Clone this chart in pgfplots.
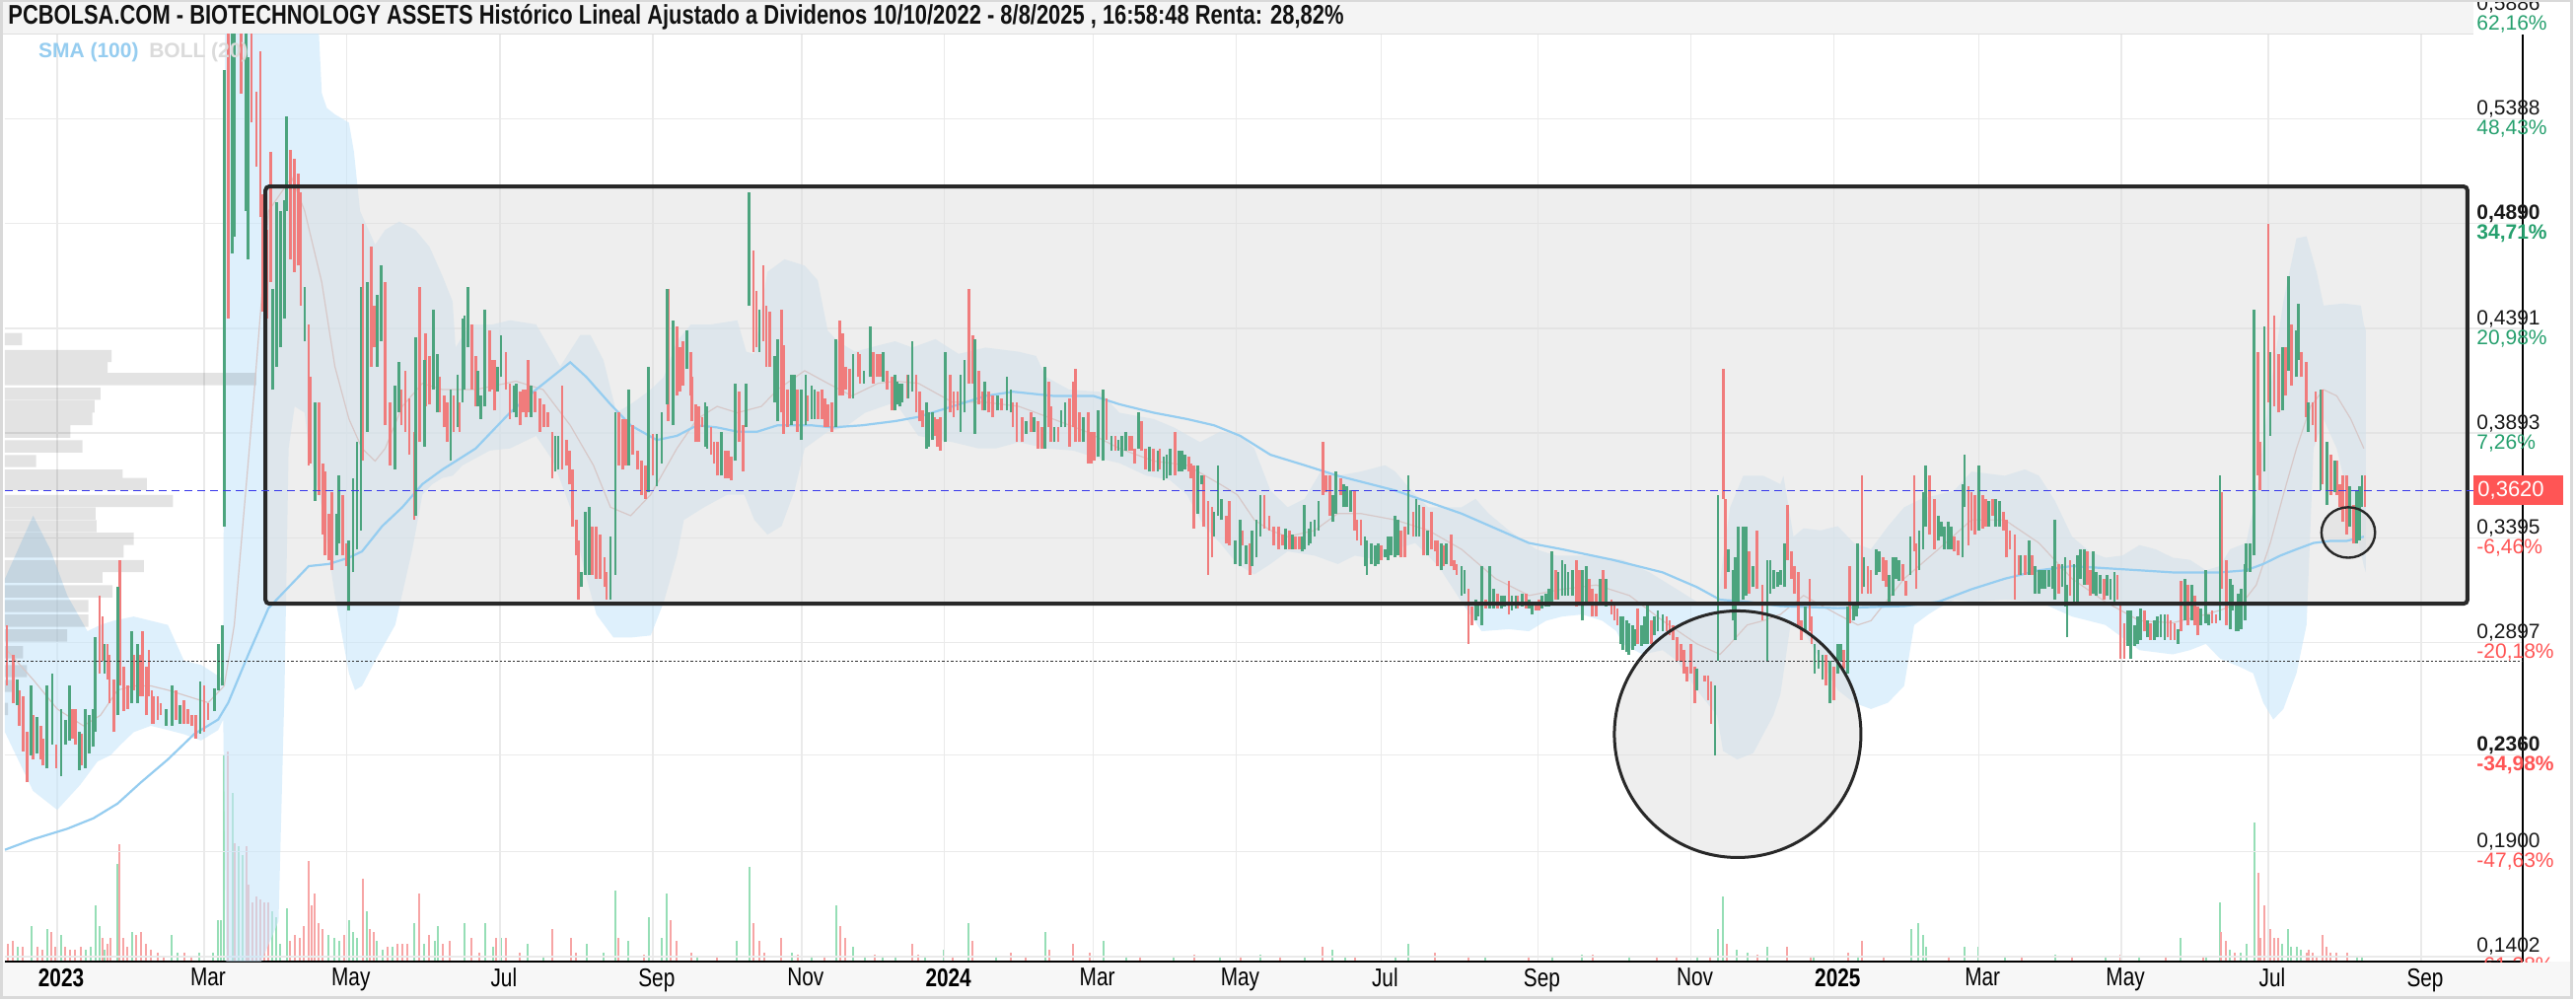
\documentclass[border=0pt]{standalone}
\usepackage{pgfplots}
\pgfplotsset{compat=1.18}
\usepackage{pgfplotstable}
\usepackage{fontspec}
\setmainfont{Liberation Sans}
\newfontfamily\condfont[FakeStretch=0.8]{Liberation Sans}

\definecolor{cR}{RGB}{240,124,124}
\definecolor{cG}{RGB}{76,164,126}
\definecolor{vR}{RGB}{247,165,165}
\definecolor{vG}{RGB}{150,222,182}
\definecolor{bandC}{RGB}{200,230,250}
\definecolor{smaC}{RGB}{150,205,240}
\definecolor{midC}{RGB}{215,200,200}
\definecolor{pctG}{RGB}{38,160,110}
\definecolor{pctR}{RGB}{255,85,85}
\definecolor{dashB}{RGB}{55,55,235}
\definecolor{gridC}{RGB}{234,234,234}
\definecolor{barBG}{RGB}{244,244,244}
\definecolor{stripC}{RGB}{247,247,247}
\definecolor{shapeC}{RGB}{40,40,40}
\definecolor{shapeF}{RGB}{222,222,222}

\newcommand{\yl}[3]{#1\\\textcolor{#3}{#2}}
\newcommand{\ylb}[3]{\textbf{#1}\\\textcolor{#3}{\textbf{#2}}}
\newcommand{\ylab}[2]{\node[anchor=west, align=left, inner xsep=1.5pt, inner ysep=0pt,
  font=\fontsize{10.5}{10}\selectfont, text={rgb,255:red,25;green,25;blue,25}] at (1251.5pt,#1) {#2};}

% candles: x = bar position on the time axis, lo = low, hi = high
\pgfplotstableread{
x lo hi
17 .260 .272
31 .236 .269
37 .237 .254
47 .230 .269
52 .241 .275
61 .226 .258
65 .241 .253
69 .243 .269
79 .229 .247
85 .230 .258
89 .237 .255
93 .240 .258
95 .247 .292
104 .275 .289
117 .255 .316
131 .261 .295
137 .261 .289
165 .250 .258
171 .250 .269
179 .251 .260
199 .246 .271
213 .257 .268
217 .267 .289
221 .269 .298
223 .345 .562
231 .475 .600
233 .483 .600
245 .495 .600
247 .472 .568
271 .410 .458
275 .421 .499
279 .430 .495
283 .444 .500
285 .495 .540
303 .433 .459
313 .357 .404
335 .331 .351
337 .337 .369
347 .305 .338
351 .323 .368
355 .334 .385
359 .343 .459
365 .390 .461
375 .421 .455
379 .433 .469
393 .372 .412
397 .399 .423
413 .350 .435
422 .383 .424
431 .410 .448
435 .399 .427
448 .376 .410
455 .392 .417
460 .404 .444
462 .410 .445
465 .430 .459
475 .402 .419
478 .396 .407
482 .402 .448
495 .409 .421
498 .416 .436
511 .399 .412
513 .397 .413
528 .397 .412
552 .371 .388
555 .372 .388
578 .316 .323
582 .322 .352
586 .322 .354
607 .310 .340
612 .322 .399
625 .374 .410
645 .361 .421
653 .364 .389
658 .375 .399
663 .403 .458
669 .393 .443
683 .420 .438
701 .383 .404
703 .382 .402
717 .369 .390
731 .376 .413
742 .392 .413
745 .450 .504
755 .428 .448
770 .404 .426
773 .395 .434
787 .393 .417
790 .395 .417
797 .386 .410
801 .393 .417
807 .396 .412
810 .396 .410
831 .392 .434
848 .406 .427
859 .413 .419
865 .416 .440
878 .414 .428
890 .400 .417
892 .403 .414
895 .402 .413
897 .404 .413
903 .406 .417
907 .409 .433
921 .382 .404
923 .383 .399
927 .386 .399
940 .385 .428
955 .390 .417
959 .399 .424
969 .389 .434
979 .400 .414
992 .400 .407
1001 .400 .416
1005 .399 .410
1020 .389 .395
1028 .390 .397
1039 .382 .421
1048 .385 .392
1055 .392 .400
1059 .392 .404
1077 .385 .397
1092 .378 .400
1097 .376 .410
1105 .381 .388
1112 .381 .386
1115 .378 .388
1119 .381 .390
1132 .382 .399
1143 .371 .383
1151 .371 .381
1157 .367 .378
1160 .368 .379
1163 .369 .382
1172 .371 .381
1175 .371 .381
1178 .372 .379
1191 .351 .374
1195 .365 .369
1207 .340 .352
1211 .350 .374
1214 .348 .358
1228 .327 .338
1233 .326 .348
1239 .327 .336
1245 .326 .343
1249 .330 .348
1253 .340 .360
1278 .334 .344
1285 .334 .341
1295 .333 .340
1297 .334 .355
1301 .336 .344
1303 .337 .347
1307 .340 .348
1311 .343 .357
1325 .347 .360
1328 .351 .371
1336 .354 .365
1339 .354 .364
1343 .352 .362
1357 .326 .340
1359 .322 .338
1363 .327 .337
1367 .326 .336
1370 .327 .337
1377 .330 .334
1380 .329 .340
1383 .331 .340
1387 .330 .350
1390 .331 .348
1400 .341 .369
1408 .340 .358
1411 .340 .355
1419 .331 .343
1433 .324 .337
1438 .327 .337
1453 .312 .326
1456 .313 .324
1467 .300 .310
1469 .302 .309
1473 .298 .326
1481 .306 .326
1485 .306 .315
1493 .306 .312
1496 .307 .312
1503 .305 .312
1507 .306 .312
1513 .307 .313
1520 .306 .310
1523 .303 .309
1533 .306 .312
1537 .307 .313
1540 .307 .315
1543 .309 .333
1549 .310 .323
1553 .312 .329
1556 .312 .327
1559 .312 .323
1563 .312 .324
1573 .300 .324
1577 .309 .326
1591 .309 .320
1597 .307 .320
1611 .289 .302
1613 .286 .302
1617 .285 .300
1619 .284 .299
1623 .286 .298
1625 .288 .296
1632 .288 .298
1635 .289 .302
1638 .289 .309
1645 .293 .302
1648 .295 .305
1653 .295 .303
1687 .267 .277
1705 .236 .269
1708 .281 .360
1718 .323 .334
1723 .300 .324
1725 .291 .330
1728 .309 .345
1733 .310 .345
1736 .312 .345
1743 .316 .326
1757 .281 .329
1760 .313 .329
1763 .315 .324
1767 .316 .323
1770 .317 .324
1774 .316 .337
1795 .295 .307
1804 .275 .289
1808 .277 .286
1812 .272 .284
1819 .261 .281
1827 .275 .289
1830 .281 .289
1837 .275 .307
1843 .300 .309
1846 .302 .309
1847 .306 .337
1853 .316 .330
1865 .322 .334
1868 .323 .333
1878 .309 .322
1882 .312 .330
1885 .320 .330
1888 .319 .329
1899 .322 .340
1908 .324 .343
1912 .334 .361
1914 .345 .374
1927 .338 .350
1930 .340 .347
1933 .334 .345
1937 .334 .347
1940 .334 .345
1951 .330 .365
1953 .354 .379
1967 .343 .374
1977 .345 .357
1984 .345 .358
1988 .345 .357
2009 .322 .331
2017 .322 .338
2023 .313 .326
2027 .313 .324
2030 .315 .324
2033 .315 .324
2037 .316 .324
2041 .315 .326
2043 .310 .348
2050 .316 .327
2053 .307 .330
2055 .292 .317
2062 .309 .327
2065 .309 .331
2068 .320 .334
2072 .317 .334
2081 .313 .333
2084 .312 .323
2088 .313 .322
2095 .312 .322
2098 .310 .320
2102 .309 .323
2115 .288 .305
2118 .282 .305
2122 .288 .298
2125 .289 .302
2128 .291 .306
2135 .292 .300
2142 .291 .300
2145 .292 .302
2148 .292 .303
2152 .291 .303
2165 .289 .296
2172 .300 .320
2179 .300 .317
2188 .298 .306
2193 .299 .324
2196 .298 .303
2207 .300 .369
2217 .296 .320
2219 .305 .317
2223 .295 .309
2225 .295 .313
2228 .296 .315
2232 .300 .327
2233 .323 .337
2237 .323 .337
2241 .331 .448
2251 .371 .440
2257 .388 .428
2269 .400 .430
2275 .419 .464
2283 .416 .438
2285 .424 .451
2295 .390 .404
2307 .362 .410
2313 .355 .385
2321 .361 .376
2336 .345 .364
2343 .337 .362
2346 .338 .364
2348 .354 .369
}\upC

\pgfplotstableread{
x lo hi
7 .269 .298
13 .261 .284
19 .250 .267
23 .238 .264
27 .223 .247
33 .234 .255
41 .234 .250
43 .231 .244
56 .230 .241
72 .244 .258
75 .241 .258
81 .231 .246
99 .275 .312
102 .281 .302
107 .272 .289
109 .261 .284
113 .247 .272
119 .269 .329
123 .257 .278
127 .258 .269
133 .267 .284
139 .264 .284
142 .264 .295
146 .255 .278
148 .264 .286
151 .251 .267
153 .251 .264
157 .253 .264
160 .255 .261
175 .253 .267
183 .251 .262
187 .251 .258
191 .250 .255
195 .244 .255
203 .247 .269
207 .253 .261
227 .444 .600
240 .551 .600
250 .537 .600
255 .516 .552
259 .492 .571
261 .447 .503
265 .444 .486
269 .461 .523
289 .472 .524
293 .466 .520
297 .469 .513
299 .450 .504
307 .374 .441
309 .375 .416
317 .360 .404
321 .341 .375
323 .331 .371
327 .329 .351
330 .324 .361
341 .331 .360
345 .326 .337
361 .376 .489
369 .421 .478
372 .430 .450
383 .393 .461
388 .374 .404
399 .393 .410
403 .390 .419
407 .379 .406
412 .348 .390
417 .385 .459
423 .402 .437
427 .403 .426
437 .399 .416
442 .392 .407
445 .385 .404
451 .390 .407
457 .390 .404
469 .410 .441
473 .402 .426
487 .409 .438
489 .410 .424
492 .400 .424
503 .410 .428
507 .396 .413
517 .393 .409
520 .399 .410
523 .397 .410
525 .399 .424
532 .399 .409
537 .390 .406
541 .392 .403
545 .392 .399
549 .368 .390
559 .372 .412
563 .374 .386
566 .365 .381
569 .345 .372
573 .331 .348
575 .310 .338
589 .322 .345
593 .320 .345
597 .320 .341
601 .316 .330
603 .310 .323
615 .374 .399
619 .372 .396
622 .374 .396
629 .379 .393
634 .372 .381
638 .360 .376
642 .358 .374
649 .369 .389
664 .395 .458
673 .407 .440
676 .409 .430
679 .412 .433
687 .407 .428
688 .395 .416
692 .385 .403
695 .385 .402
698 .392 .397
707 .379 .392
710 .375 .385
713 .369 .385
721 .368 .381
724 .368 .381
727 .367 .378
735 .385 .409
739 .371 .393
749 .428 .476
752 .430 .457
759 .433 .469
762 .421 .450
765 .421 .447
777 .399 .448
779 .389 .431
783 .392 .410
793 .390 .410
803 .395 .407
813 .396 .409
817 .396 .410
820 .392 .406
823 .392 .403
827 .390 .404
835 .407 .443
838 .407 .437
841 .410 .421
845 .406 .420
853 .416 .428
855 .413 .427
868 .413 .428
872 .416 .427
875 .416 .427
882 .410 .419
887 .400 .416
902 .406 .417
911 .399 .417
914 .395 .409
917 .392 .400
929 .388 .397
932 .383 .396
935 .381 .397
945 .399 .417
948 .397 .409
952 .400 .409
963 .413 .458
967 .413 .436
973 .403 .419
977 .400 .409
983 .399 .409
987 .397 .407
996 .400 .406
1007 .392 .404
1011 .385 .404
1016 .385 .397
1025 .390 .399
1032 .382 .395
1036 .382 .392
1043 .392 .414
1045 .385 .402
1052 .385 .392
1063 .383 .406
1067 .392 .414
1069 .385 .420
1073 .385 .399
1082 .375 .399
1085 .375 .390
1088 .376 .390
1100 .386 .406
1109 .381 .388
1123 .381 .388
1125 .381 .388
1128 .375 .382
1135 .381 .395
1139 .372 .382
1147 .371 .382
1153 .372 .382
1168 .369 .390
1182 .371 .378
1184 .368 .375
1187 .344 .374
1197 .345 .369
1201 .322 .357
1205 .330 .354
1219 .337 .350
1222 .336 .357
1235 .336 .343
1243 .322 .337
1257 .344 .360
1262 .343 .350
1266 .336 .345
1271 .334 .345
1275 .336 .341
1282 .334 .343
1288 .334 .340
1292 .334 .340
1315 .360 .385
1318 .361 .369
1322 .350 .369
1333 .360 .368
1347 .343 .362
1349 .338 .348
1353 .336 .348
1373 .329 .336
1393 .330 .343
1397 .330 .345
1405 .340 .352
1415 .331 .354
1423 .334 .352
1427 .333 .338
1429 .326 .338
1435 .326 .336
1443 .326 .341
1446 .324 .329
1448 .322 .327
1460 .289 .315
1463 .298 .307
1477 .306 .310
1489 .306 .313
1500 .303 .319
1509 .306 .312
1517 .306 .313
1527 .305 .309
1530 .305 .310
1547 .310 .324
1567 .307 .329
1570 .309 .324
1580 .309 .320
1583 .302 .315
1587 .302 .313
1594 .309 .324
1602 .303 .310
1605 .300 .309
1608 .298 .306
1628 .289 .306
1642 .289 .300
1657 .295 .302
1660 .293 .300
1663 .291 .298
1667 .281 .292
1671 .281 .289
1674 .275 .286
1677 .271 .278
1681 .275 .289
1685 .261 .278
1695 .271 .274
1698 .262 .274
1701 .251 .271
1713 .358 .420
1715 .315 .358
1739 .313 .333
1747 .315 .343
1752 .300 .317
1777 .329 .355
1781 .320 .333
1784 .313 .326
1788 .298 .323
1791 .291 .300
1799 .295 .320
1801 .289 .302
1815 .269 .284
1823 .262 .278
1833 .277 .286
1839 .299 .326
1851 .313 .369
1857 .313 .326
1860 .313 .324
1872 .319 .330
1875 .316 .329
1892 .319 .327
1895 .312 .319
1903 .333 .369
1905 .315 .337
1918 .341 .369
1923 .334 .358
1943 .333 .340
1947 .331 .338
1957 .336 .364
1960 .343 .361
1963 .341 .360
1971 .344 .360
1974 .345 .358
1981 .350 .358
1992 .343 .352
1995 .330 .348
1998 .334 .343
2003 .310 .341
2007 .322 .331
2013 .322 .331
2020 .322 .331
2047 .313 .327
2058 .312 .329
2075 .317 .333
2078 .312 .324
2092 .310 .320
2105 .310 .322
2108 .282 .309
2112 .282 .299
2132 .295 .305
2138 .291 .299
2155 .292 .303
2158 .291 .300
2162 .291 .299
2168 .295 .319
2175 .298 .317
2182 .298 .312
2185 .293 .307
2199 .299 .305
2203 .299 .303
2209 .315 .361
2213 .298 .329
2245 .369 .428
2247 .362 .385
2255 .404 .489
2261 .402 .445
2265 .399 .427
2272 .407 .430
2278 .412 .441
2288 .416 .428
2293 .397 .423
2299 .393 .404
2302 .385 .409
2309 .365 .410
2317 .360 .379
2323 .360 .376
2326 .354 .365
2329 .347 .369
2333 .341 .369
2340 .337 .355
2351 .354 .369
}\dnC

% volume (arbitrary units)
\pgfplotstableread{
x v
18 25
31 60
47 55
61 45
85 20
90 25
95 95
99 60
104 20
117 165
131 50
171 45
177 15
198 15
212 15
217 70
220 70
223 350
231 285
237 195
241 180
271 85
275 75
279 30
285 90
327 45
332 40
337 35
347 70
351 50
355 40
365 85
375 35
380 20
390 25
412 65
422 30
432 35
435 60
462 65
482 65
490 25
498 40
525 30
540 10
583 30
600 15
612 120
625 35
645 75
658 40
663 115
693 10
732 35
745 160
787 15
807 10
831 95
848 25
860 10
878 10
890 10
920 8
938 20
963 65
990 8
1039 50
1097 35
1120 6
1167 10
1213 8
1253 12
1297 10
1325 20
1337 8
1387 8
1400 30
1477 6
1543 10
1573 12
1620 8
1687 10
1708 55
1713 110
1727 20
1737 15
1757 25
1803 8
1847 10
1900 55
1907 65
1912 45
1915 25
1953 25
1967 25
1993 8
2043 12
2093 8
2127 10
2168 40
2193 10
2207 100
2217 20
2228 15
2233 30
2241 235
2269 30
2275 55
2278 25
2283 25
2287 20
2343 10
2348 10
}\volG

\pgfplotstableread{
x v
8 30
13 35
23 25
37 25
42 20
51 50
55 25
65 25
70 20
75 20
80 25
102 40
107 30
110 40
119 198
123 40
127 25
135 45
140 50
145 30
150 20
157 15
163 10
183 15
190 10
203 10
227 355
233 200
245 195
247 130
251 100
255 110
259 105
263 100
267 100
288 35
293 45
298 40
302 60
307 170
310 95
313 115
317 65
321 55
342 45
361 140
368 55
372 50
385 25
395 30
400 30
405 30
417 115
427 45
440 30
447 35
469 40
477 15
493 40
503 40
517 15
549 55
568 40
573 15
615 40
640 12
667 70
673 35
687 15
713 10
749 65
755 35
760 15
777 40
793 12
820 10
835 60
840 40
870 12
907 30
913 12
947 10
967 35
1005 15
1020 10
1043 20
1067 30
1083 15
1133 8
1187 12
1233 10
1273 8
1315 25
1347 8
1427 15
1460 10
1520 6
1583 12
1647 8
1667 8
1700 10
1717 30
1747 12
1777 25
1800 10
1837 15
1851 35
1873 8
1937 8
2010 10
2060 8
2108 12
2153 8
2190 10
2208 50
2213 35
2222 15
2245 150
2247 40
2251 95
2255 140
2257 55
2261 40
2265 40
2293 15
2295 20
2299 15
2303 10
2309 45
2313 25
2317 15
2323 15
2333 15
}\volR

\begin{document}
\begin{tikzpicture}
\useasboundingbox (-2.5pt,-20.5pt) rectangle (1303.5pt,487.5pt);
\clip (-2.5pt,-20.5pt) rectangle (1303.5pt,487.5pt);
\fill[white] (-2.5pt,-20.5pt) rectangle (1303.5pt,487.5pt);
\fill[barBG] (-2.5pt,470pt) rectangle (1251.5pt,487.5pt);
\draw[gray!25, line width=0.5pt] (-2.5pt,470pt) -- (1251.5pt,470pt);
\fill[stripC] (-2.5pt,-17.5pt) rectangle (1301pt,0pt);
\node[anchor=west, inner sep=0pt, text={rgb,255:red,17;green,17;blue,17},
  font=\condfont\bfseries\fontsize{13.7}{15}\selectfont] at (1.5pt,478.7pt)
  {PCBOLSA.COM - BIOTECHNOLOGY ASSETS Histórico Lineal Ajustado a Dividenos 10/10/2022 - 8/8/2025 , 16:58:48 Renta: 28,82\%};

% volume
\begin{axis}[scale only axis, width=1251.5pt, height=470pt,
  xmin=5, xmax=2508, ymin=0, ymax=1568, hide axis]
\addplot[ycomb, vG, line width=1pt] table[x=x, y=v] {\volG};
\addplot[ycomb, vR, line width=1pt] table[x=x, y=v] {\volR};
\end{axis}

% price
\begin{axis}[scale only axis, width=1251.5pt, height=470pt,
  xmin=5, xmax=2508, ymin=0.1378, ymax=0.5790,
  axis x line*=bottom, axis y line*=right,
  axis line style={black, line width=0.8pt},
  grid=major, grid style={gridC, line width=0.7pt},
  major tick length=0pt,
  xtick={57,203,345,497,649,797,939,1087,1229,1373,1529,1681,1823,1967,2109,2255,2407},
  xticklabels={\textbf{2023},Mar,May,Jul,Sep,Nov,\textbf{2024},Mar,May,Jul,Sep,Nov,\textbf{2025},Mar,May,Jul,Sep},
  xticklabel style={font=\condfont\fontsize{13}{13}\selectfont, xshift=2pt},
  ytick={0.1402,0.1900,0.2360,0.2897,0.3395,0.3893,0.4391,0.4890,0.5388},
  yticklabels={},
]
% Bollinger bands (20): upper band left to right, then lower band right to left
\addplot[draw=none, fill=bandC, fill opacity=0.6] coordinates {(5,.320)(33,.350)(50,.334)(67,.312)(87,.295)(100,.298)(113,.300)(133,.302)(150,.300)(167,.298)(183,.281)(200,.279)(213,.275)(222,.272)(224,.620)(313,.620)(320,.551)(325,.544)(333,.541)(347,.537)(352,.523)(358,.495)(373,.479)(383,.486)(397,.490)(413,.486)(427,.478)(440,.464)(450,.452)(453,.430)(467,.441)(490,.441)(507,.443)(533,.441)(557,.421)(577,.436)(587,.436)(600,.424)(613,.399)(630,.404)(647,.410)(660,.416)(673,.433)(687,.441)(707,.441)(733,.443)(742,.428)(750,.427)(763,.466)(780,.472)(800,.469)(813,.462)(823,.438)(833,.433)(850,.428)(873,.431)(890,.433)(907,.430)(930,.434)(953,.427)(980,.430)(1013,.428)(1030,.426)(1040,.416)(1063,.410)(1093,.409)(1113,.399)(1147,.396)(1167,.392)(1193,.385)(1213,.390)(1233,.388)(1247,.382)(1263,.362)(1280,.354)(1297,.358)(1313,.371)(1330,.369)(1353,.371)(1377,.374)(1387,.371)(1403,.362)(1420,.354)(1453,.354)(1467,.358)(1480,.351)(1500,.343)(1527,.334)(1547,.331)(1580,.331)(1613,.329)(1640,.323)(1667,.315)(1687,.309)(1707,.309)(1720,.354)(1733,.369)(1753,.369)(1770,.365)(1773,.369)(1783,.340)(1793,.344)(1810,.343)(1827,.345)(1843,.337)(1860,.334)(1877,.345)(1893,.354)(1910,.358)(1927,.360)(1943,.362)(1960,.371)(1993,.369)(2013,.372)(2027,.369)(2043,.357)(2060,.340)(2077,.333)(2093,.330)(2110,.331)(2127,.336)(2143,.334)(2160,.330)(2177,.329)(2193,.324)(2207,.326)(2217,.334)(2233,.337)(2243,.360)(2257,.410)(2270,.452)(2283,.482)(2293,.483)(2303,.466)(2310,.450)(2330,.451)(2347,.450)(2350,.441)(2352,.438)
(2352,.323)(2350,.326)(2337,.354)(2323,.382)(2310,.396)(2300,.382)(2293,.298)(2283,.275)(2270,.258)(2260,.253)(2250,.261)(2240,.275)(2227,.278)(2207,.282)(2193,.289)(2177,.286)(2160,.284)(2127,.286)(2110,.292)(2093,.298)(2060,.302)(2027,.309)(1993,.310)(1960,.309)(1943,.310)(1927,.306)(1917,.303)(1903,.298)(1893,.269)(1877,.261)(1860,.258)(1843,.261)(1827,.267)(1810,.281)(1793,.295)(1780,.298)(1770,.265)(1763,.255)(1743,.237)(1727,.234)(1713,.238)(1707,.255)(1687,.267)(1667,.281)(1653,.286)(1633,.284)(1613,.289)(1607,.295)(1593,.300)(1573,.303)(1553,.302)(1537,.300)(1520,.295)(1500,.296)(1473,.295)(1453,.309)(1430,.326)(1407,.337)(1387,.334)(1370,.329)(1347,.331)(1330,.327)(1307,.331)(1280,.333)(1263,.327)(1247,.322)(1230,.327)(1213,.337)(1197,.345)(1180,.360)(1163,.367)(1140,.369)(1113,.375)(1087,.378)(1067,.381)(1040,.382)(1013,.385)(990,.382)(973,.382)(947,.385)(913,.388)(890,.404)(860,.399)(840,.392)(823,.390)(800,.382)(790,.362)(777,.345)(763,.341)(750,.348)(740,.360)(723,.360)(700,.354)(680,.348)(673,.331)(660,.309)(647,.293)(627,.292)(610,.292)(593,.303)(580,.326)(567,.354)(550,.376)(533,.388)(507,.382)(487,.381)(460,.374)(450,.369)(440,.368)(430,.365)(420,.360)(410,.334)(393,.298)(373,.281)(360,.269)(353,.267)(347,.275)(333,.312)(320,.354)(307,.382)(303,.399)(293,.402)(287,.382)(283,.269)(277,.157)(226,.100)(222,.253)(217,.248)(200,.243)(183,.246)(167,.248)(150,.250)(133,.247)(120,.241)(110,.236)(97,.233)(80,.222)(57,.210)(33,.219)(5,.247)};

% volume profile
\addplot[xbar, bar width=0.0058, draw=none, fill=black, fill opacity=0.11] coordinates {(22,.434)(111,.426)(107,.421)(255,.415)(100,.408)(94,.402)(92,.396)(70,.390)(82,.383)(36,.376)(122,.369)(146,.365)(172,.357)(95,.351)(96,.345)(133,.339)(123,.333)(143,.326)(102,.321)(112,.314)(88,.307)(88,.300)(67,.293)(23,.285)(27,.276)(12,.269)(8,.258)};

% drawn shapes (fill)
\addplot[draw=none, fill=shapeF, fill opacity=0.5] coordinates {(264,0.5067)(2453,0.5067)(2453,0.3081)(264,0.3081)(264,0.5067)};
\fill[shapeF, fill opacity=0.5] (axis cs:1727.5,0.2460) circle[radius=62.5pt];
\fill[shapeF, fill opacity=0.5] (axis cs:2334.5,0.3420) ellipse[x radius=13.6pt, y radius=12.8pt];

% BOLL middle and SMA(100)
\addplot[midC, line width=0.6pt] coordinates {(7,.286)(33,.272)(57,.258)(83,.250)(100,.255)(117,.267)(133,.269)(150,.269)(167,.267)(187,.264)(207,.261)(223,.269)(233,.298)(243,.354)(253,.410)(267,.495)(290,.511)(303,.495)(320,.461)(333,.421)(347,.396)(360,.382)(373,.376)(383,.382)(400,.402)(420,.413)(440,.410)(473,.410)(513,.414)(540,.410)(567,.393)(590,.374)(607,.354)(627,.350)(647,.360)(673,.382)(693,.396)(713,.402)(733,.399)(757,.402)(773,.410)(800,.419)(823,.413)(847,.407)(873,.413)(890,.414)(913,.413)(947,.404)(980,.404)(1013,.402)(1047,.396)(1080,.390)(1113,.382)(1147,.376)(1180,.374)(1213,.365)(1230,.360)(1247,.348)(1263,.343)(1280,.340)(1307,.343)(1330,.351)(1353,.351)(1387,.348)(1420,.343)(1453,.334)(1487,.320)(1520,.312)(1553,.315)(1587,.317)(1620,.312)(1653,.300)(1687,.289)(1710,.284)(1720,.289)(1737,.298)(1753,.300)(1770,.303)(1793,.312)(1827,.303)(1847,.298)(1860,.300)(1893,.320)(1927,.334)(1960,.348)(1993,.348)(2027,.337)(2060,.320)(2093,.309)(2127,.300)(2160,.299)(2193,.303)(2207,.305)(2230,.309)(2243,.317)(2257,.337)(2270,.360)(2283,.382)(2297,.402)(2310,.410)(2323,.407)(2337,.396)(2350,.382)};
\addplot[smaC, line width=1.1pt] coordinates {(5,.191)(33,.196)(67,.201)(93,.206)(117,.213)(140,.223)(167,.234)(193,.246)(217,.253)(227,.261)(247,.284)(267,.306)(287,.316)(307,.326)(327,.327)(347,.330)(360,.333)(380,.345)(400,.354)(420,.365)(440,.372)(450,.375)(473,.382)(507,.399)(533,.410)(567,.423)(583,.416)(607,.403)(627,.393)(653,.386)(673,.388)(693,.393)(713,.392)(733,.390)(753,.390)(773,.393)(807,.393)(827,.392)(857,.393)(890,.395)(913,.397)(947,.402)(980,.407)(1007,.409)(1047,.407)(1087,.407)(1113,.403)(1147,.399)(1180,.396)(1207,.393)(1233,.388)(1263,.379)(1297,.374)(1330,.369)(1387,.362)(1453,.351)(1520,.337)(1553,.334)(1603,.329)(1653,.323)(1687,.316)(1710,.310)(1737,.309)(1770,.307)(1827,.306)(1893,.307)(1927,.309)(1960,.315)(1993,.320)(2027,.324)(2060,.326)(2093,.325)(2127,.324)(2160,.323)(2207,.323)(2233,.324)(2250,.327)(2267,.331)(2283,.334)(2300,.337)(2317,.338)(2333,.338)(2350,.340)};

% candles
\addplot[draw=none, mark=none, error bars/.cd, y dir=plus, y explicit, error mark=none,
  error bar style={draw=cR, line width=1.35pt}]
  table[x=x, y=lo, y error expr=\thisrow{hi}-\thisrow{lo}] {\dnC};
\addplot[draw=none, mark=none, error bars/.cd, y dir=plus, y explicit, error mark=none,
  error bar style={draw=cG, line width=1.35pt}]
  table[x=x, y=lo, y error expr=\thisrow{hi}-\thisrow{lo}] {\upC};

% drawn shapes (outline)
\addplot[shapeC, line width=2pt, rounded corners=2pt] coordinates {(1300,0.5067)(2453,0.5067)(2453,0.3081)(264,0.3081)(264,0.5067)(1300,0.5067)};
\draw[shapeC, line width=1.5pt] (axis cs:1727.5,0.2460) circle[radius=62.5pt];
\draw[shapeC, line width=1.2pt] (axis cs:2334.5,0.3420) ellipse[x radius=13.6pt, y radius=12.8pt];

% reference lines
\addplot[dashB, line width=0.8pt, dash pattern=on 4pt off 2.5pt] coordinates {(5,0.3620)(2508,0.3620)};
\addplot[black!80, line width=0.6pt, dash pattern=on 1.2pt off 1pt] coordinates {(5,0.2808)(2508,0.2808)};

\node[anchor=west, inner sep=0pt, text=smaC, font=\bfseries\fontsize{10.5}{12}\selectfont] at (axis cs:38,0.5706) {SMA (100)};
\node[anchor=west, inner sep=0pt, text=gray!28, font=\bfseries\fontsize{10.5}{12}\selectfont] at (axis cs:148,0.5706) {BOLL (20)};
\end{axis}

% price scale labels (price and change from the base price)
\ylab{2.557pt}{\yl{0,1402}{-61,38\%}{pctR}}
\ylab{55.608pt}{\yl{0,1900}{-47,63\%}{pctR}}
\ylab{104.61pt}{\ylb{0,2360}{-34,98\%}{pctR}}
\ylab{161.82pt}{\yl{0,2897}{-20,18\%}{pctR}}
\ylab{214.87pt}{\yl{0,3395}{-6,46\%}{pctR}}
\ylab{267.92pt}{\yl{0,3893}{7,26\%}{pctG}}
\ylab{320.97pt}{\yl{0,4391}{20,98\%}{pctG}}
\ylab{374.13pt}{\ylb{0,4890}{34,71\%}{pctG}}
\ylab{427.18pt}{\yl{0,5388}{48,43\%}{pctG}}
\ylab{480.23pt}{\yl{0,5886}{62,16\%}{pctG}}
\fill[stripC] (1252pt,-17.5pt) rectangle (1301pt,-0.45pt);
\node[anchor=west, fill=pctR, text=white, inner xsep=2pt, inner ysep=0pt, minimum height=15pt,
  text width=41.5pt, align=left, font=\fontsize{11}{12}\selectfont] at (1251.5pt,238.8pt) {0,3620};
\draw[gray!30, line width=1.2pt] (-1.8pt,-18.2pt) rectangle (1301.2pt,486.9pt);
\end{tikzpicture}
\end{document}
